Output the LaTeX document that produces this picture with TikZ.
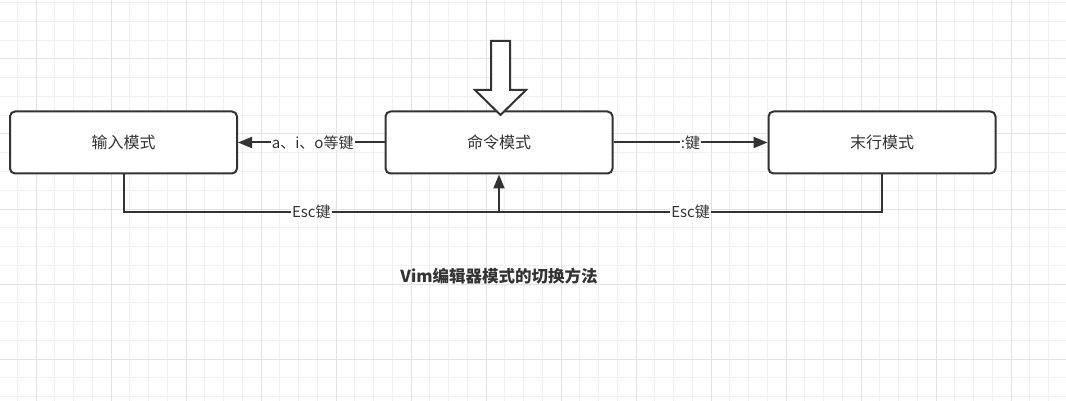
\documentclass[tikz,border=0pt]{standalone}
\usepackage{fontspec}
\setmainfont{Noto Sans CJK SC}
\usetikzlibrary{arrows.meta}
\definecolor{ln}{HTML}{333333}
\definecolor{gmin}{HTML}{F1F1F1}
\definecolor{gmaj}{HTML}{E2E2E2}
\begin{document}
\begin{tikzpicture}[x=1pt,y=-1pt,
  box/.style={draw=ln, line width=2pt, rounded corners=5pt, fill=white, minimum width=227pt, minimum height=62pt, font=\fontsize{16}{19}\selectfont, text=ln, inner sep=0pt},
  conn/.style={draw=ln, line width=2pt, -{Triangle[length=14pt,width=11pt]}},
  wire/.style={draw=ln, line width=2pt},
  lbl/.style={fill=white, inner sep=1pt, font=\fontsize{15}{18}\selectfont, text=ln},
  hollow/.style={draw=ln, line width=2pt, fill=white, line join=miter}]
\useasboundingbox (0,0) rectangle (1066,401);
\fill[white] (0,0) rectangle (1066,401);
\foreach \i in {-1,...,56} {\draw[gmin, line width=1pt] ({36+18.75*\i},0) -- ({36+18.75*\i},401);}
\foreach \i in {-3,...,19} {\draw[gmin, line width=1pt] (0,{59+18.75*\i}) -- (1066,{59+18.75*\i});}
\foreach \i in {0,...,13} {\draw[gmaj, line width=1pt] ({36+75*\i},0) -- ({36+75*\i},401);}
\foreach \i in {0,...,4} {\draw[gmaj, line width=1pt] (0,{59+75*\i}) -- (1066,{59+75*\i});}

\node[box] (in) at (123.5,142.5) {输入模式};
\node[box] (cmd) at (499,142.5) {命令模式};
\node[box] (last) at (882,142.5) {末行模式};

\draw[hollow] (491,41) -- (510,41) -- (510,90) -- (526,90) -- (500.5,115) -- (475,90) -- (491,90) -- cycle;

\draw[conn] (cmd.west) -- node[lbl, pos=0.49] {a、i、o等键} (in.east);
\draw[conn] (cmd.east) -- node[lbl, pos=0.5] {:键} (last.west);

\coordinate (j) at (499,212);
\draw[wire] (in.south) |- node[lbl, pos=0.75] {Esc键} (j);
\draw[wire] (last.south) |- node[lbl, pos=0.75] {Esc键} (j);
\draw[conn] (j) -- (cmd.south);

\node[font=\fontsize{16.5}{19}\selectfont\bfseries, text=ln] (title) at (499,276) {Vim编辑器模式的切换方法};
\end{tikzpicture}
\end{document}
